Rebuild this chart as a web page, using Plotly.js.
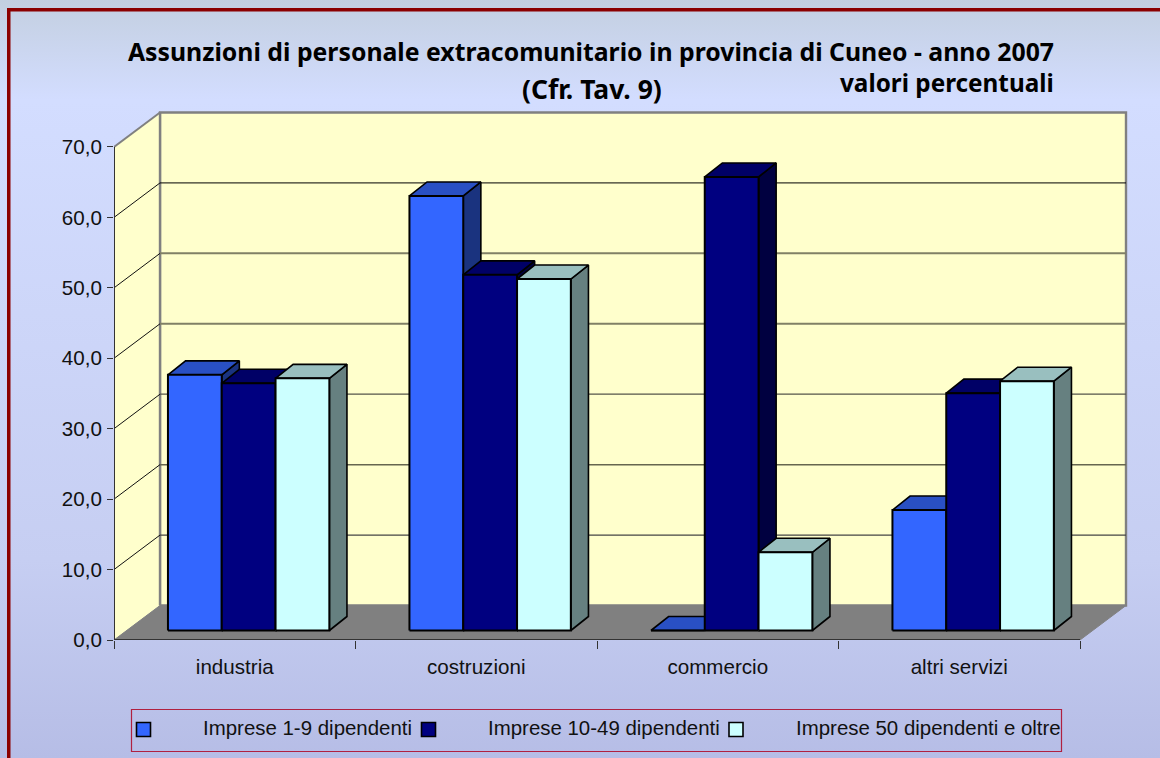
<!DOCTYPE html>
<html>
<head>
<meta charset="utf-8">
<script src="https://cdn.plot.ly/plotly-3.0.1.min.js"></script>
<style>
html,body{margin:0;padding:0;width:1160px;height:758px;overflow:hidden;
background:linear-gradient(180deg,#c3cfe0 0,#d3ddff 100px,#c6ceF2 560px,#b6bde6 758px);}
#chart{width:1160px;height:758px;}
</style>
</head>
<body>
<div id="chart"></div>
<script>
var categories = ["industria", "costruzioni", "commercio", "altri servizi"];
var seriesNames = ["Imprese 1-9 dipendenti", "Imprese 10-49 dipendenti", "Imprese 50 dipendenti e oltre"];
var imprese1_9 = [36.3, 61.7, 0, 17.1];
var imprese10_49 = [35.1, 50.5, 64.4, 33.7];
var imprese50 = [35.8, 49.9, 11.1, 35.4];
var yTickVals = [0, 10, 20, 30, 40, 50, 60, 70];
var yTickText = ["0,0", "10,0", "20,0", "30,0", "40,0", "50,0", "60,0", "70,0"];
var titleMain = "Assunzioni di personale extracomunitario in provincia di Cuneo - anno 2007";
var titleRef = "(Cfr. Tav. 9)";
var titleUnit = "valori percentuali";

var W = 1160, H = 758, mL = 114, mR = 30, mT = 108, mB = 118;
var pxX = 241.5, pxY = 7.043;
var plotW = W - mL - mR, plotH = H - mT - mB;
var xMax = plotW / pxX, yMax = plotH / pxY;
function dxp(p) { return p / pxX; }
function dyp(p) { return p / pxY; }
function paperX(px) { return (px - mL) / plotW; }
function paperY(py) { return (H - mB - py) / plotH; }

var wallDX = dxp(46), wallDY = dyp(34.5);
var frontDX = dxp(13.9), frontDY = dyp(9.5);
var depthDX = dxp(17.6), depthDY = dyp(14);
var barW = dxp(53.8);

var palette = [
  {front: "#3366ff", top: "#2950c4", side: "#1a337f"},
  {front: "#000080", top: "#000066", side: "#000040"},
  {front: "#ccffff", top: "#99bfbf", side: "#668080"}
];
var allSeries = [imprese1_9, imprese10_49, imprese50];

var traces = [];
function poly(xs, ys, fill, lw) {
  return {x: xs, y: ys, type: "scatter", mode: "lines", fill: "toself", fillcolor: fill,
    line: {color: "#000", width: lw, shape: "linear"}, hoverinfo: "skip", showlegend: false};
}
allSeries.forEach(function (vals, s) {
  var fx = [], fy = [], tx = [], ty = [], sx = [], sy = [];
  vals.forEach(function (v, c) {
    var x0 = c + 0.5 + frontDX + (s - 1.5) * barW, x1 = x0 + barW;
    var b = frontDY, t = frontDY + v;
    fx.push(x0, x1, x1, x0, x0, null); fy.push(b, b, t, t, b, null);
    tx.push(x0, x1, x1 + depthDX, x0 + depthDX, x0, null);
    ty.push(t, t, t + depthDY, t + depthDY, t, null);
    sx.push(x1, x1 + depthDX, x1 + depthDX, x1, x1, null);
    sy.push(b, b + depthDY, t + depthDY, t, b, null);
  });
  traces.push(poly(sx, sy, palette[s].side, 1.6));
  traces.push(poly(tx, ty, palette[s].top, 1.6));
  traces.push(poly(fx, fy, palette[s].front, 2));
});

function path(pts) {
  return "M" + pts.map(function (p) { return p[0] + "," + p[1]; }).join("L") + "Z";
}
var nCat = categories.length, yTop = yTickVals[yTickVals.length - 1];
var shapes = [
  {type: "path", xref: "x", yref: "y", layer: "below", fillcolor: "#ffffcc", line: {color: "#808080", width: 2.4},
   path: path([[wallDX, wallDY], [nCat + wallDX, wallDY], [nCat + wallDX, yTop + wallDY], [wallDX, yTop + wallDY]])},
  {type: "path", xref: "x", yref: "y", layer: "below", fillcolor: "#ffffcc", line: {color: "#808080", width: 0},
   path: path([[0, 0], [wallDX, wallDY], [wallDX, yTop + wallDY], [0, yTop]])},
  {type: "line", xref: "x", yref: "y", layer: "below", x0: wallDX, y0: wallDY, x1: wallDX, y1: yTop + wallDY, line: {color: "#808080", width: 2.4}},
  {type: "path", xref: "x", yref: "y", layer: "below", fillcolor: "#808080", line: {color: "#808080", width: 1},
   path: path([[0, 0], [nCat, 0], [nCat + wallDX, wallDY], [wallDX, wallDY]])}
];
var gridStyle = {10: ["#444444", 1.2], 20: ["#66664f", 1.5], 30: ["#55554a", 1.2], 40: ["#808066", 2], 50: ["#808066", 2], 60: ["#000000", 1]};
yTickVals.forEach(function (v, i) {
  if (i === 0) return;
  var last = i === yTickVals.length - 1;
  shapes.push({type: "line", xref: "x", yref: "y", layer: "below", x0: 0, y0: v, x1: wallDX, y1: v + wallDY,
    line: {color: last ? "#808080" : "#111", width: last ? 2 : 1}});
  if (!last) shapes.push({type: "line", xref: "x", yref: "y", layer: "below", x0: wallDX, y0: v + wallDY, x1: nCat + wallDX, y1: v + wallDY,
    line: {color: gridStyle[v][0], width: gridStyle[v][1]}});
});
// front axis lines
shapes.push({type: "line", xref: "x", yref: "y", layer: "below", x0: 0, y0: 0, x1: 0, y1: yTop, line: {color: "#333", width: 2}});
shapes.push({type: "line", xref: "x", yref: "y", layer: "below", x0: 0, y0: 0, x1: nCat, y1: 0, line: {color: "#333", width: 2}});
// outer frame
shapes.push({type: "rect", xref: "paper", yref: "paper", layer: "below", x0: paperX(7), x1: paperX(1160), y0: paperY(8), y1: paperY(11.5), fillcolor: "#8b0000", line: {width: 0}});
shapes.push({type: "rect", xref: "paper", yref: "paper", layer: "below", x0: paperX(7), x1: paperX(10.5), y0: paperY(8), y1: paperY(758), fillcolor: "#8b0000", line: {width: 0}});
// legend frame and swatches
shapes.push({type: "rect", xref: "paper", yref: "paper", x0: paperX(131.5), x1: paperX(1061.5), y0: paperY(709.5), y1: paperY(751.5), line: {color: "#b02040", width: 1.2}});
var swatchX = [136.5, 421.5, 729], labelX = [203, 488, 796];
var annotations = [
  {text: titleRef, xref: "paper", yref: "paper", x: paperX(591.5), y: paperY(88.5), xanchor: "center", yanchor: "middle", showarrow: false,
   font: {family: "Noto Sans", size: 26.5, color: "#000", weight: 700}},
  {text: titleUnit, xref: "paper", yref: "paper", x: paperX(1056), y: paperY(83), xanchor: "right", yanchor: "middle", showarrow: false,
   font: {family: "Noto Sans", size: 24.3, color: "#000", weight: 700}}
];
seriesNames.forEach(function (n, s) {
  shapes.push({type: "rect", xref: "paper", yref: "paper", x0: paperX(swatchX[s]), x1: paperX(swatchX[s] + 14), y0: paperY(722.5), y1: paperY(736.5),
    fillcolor: palette[s].front, line: {color: "#000", width: 1.6}});
  annotations.push({text: n, xref: "paper", yref: "paper", x: paperX(labelX[s]), y: paperY(728), xanchor: "left", yanchor: "middle", showarrow: false,
    xshift: -2, font: {family: "Liberation Sans", size: 20.45, color: "#111"}});
});

var catPos = categories.map(function (c, i) { return i + 0.5; });
var catEdges = [0, 1, 2, 3, 4];
var layout = {
  width: W, height: H, showlegend: false,
  paper_bgcolor: "rgba(0,0,0,0)", plot_bgcolor: "rgba(0,0,0,0)",
  margin: {l: mL, r: mR, t: mT, b: mB, pad: 0},
  title: {text: titleMain, x: 591 / W, xanchor: "center", y: 1 - 52.5 / H, yanchor: "middle",
    font: {family: "Noto Sans", size: 24.8, color: "#000", weight: 700}},
  xaxis: {range: [0, xMax], tickmode: "array", tickvals: catPos, ticktext: categories, ticks: "", showgrid: false, zeroline: false, showline: false,
    tickfont: {family: "Liberation Sans", size: 20.6, color: "#111"}, ticklabelstandoff: 12,
    minor: {tickmode: "array", tickvals: catEdges, ticks: "outside", ticklen: 8, tickwidth: 1.4, tickcolor: "#333", showgrid: false}},
  yaxis: {range: [0, yMax], tickmode: "array", tickvals: yTickVals, ticktext: yTickText, ticks: "outside", ticklen: 6, tickwidth: 1.4, tickcolor: "#333",
    showgrid: false, zeroline: false, showline: false, ticklabelstandoff: 1,
    tickfont: {family: "Liberation Sans", size: 20.6, color: "#111"}},
  shapes: shapes, annotations: annotations
};
Plotly.newPlot("chart", traces, layout, {displayModeBar: false, responsive: false});
</script>
</body>
</html>
